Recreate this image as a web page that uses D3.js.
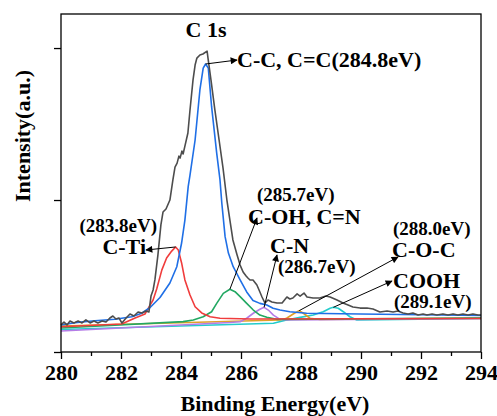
<!DOCTYPE html>
<html>
<head>
<meta charset="utf-8">
<script src="https://cdn.jsdelivr.net/npm/d3@7"></script>
<style>
  html, body { margin: 0; padding: 0; background: #fff; }
  svg { display: block; }
  svg text { font-family: "Liberation Serif", "Times New Roman", serif !important; font-weight: bold; fill: #000; }
</style>
</head>
<body>
<div id="chart"></div>
<script>
// Binding energy (eV), intensity (a.u., x10^3)
const measured = [
  [280.00,1.78],[280.10,1.97],[280.20,1.78],[280.30,2.04],[280.43,1.91],[280.57,2.04],[280.70,1.91],
  [280.83,2.11],[280.97,1.91],[281.10,2.04],[281.23,1.91],[281.37,2.04],[281.50,1.97],[281.63,2.24],
  [281.73,2.37],[281.83,2.17],[281.93,2.24],[282.03,1.91],[282.17,2.24],[282.30,2.50],[282.43,2.37],
  [282.57,2.63],[282.70,2.57],[282.83,2.70],[282.93,2.63],[283.00,3.68],[283.07,4.08],[283.13,4.74],
  [283.23,6.38],[283.33,8.36],[283.40,9.21],[283.50,9.41],[283.63,10.00],[283.73,11.32],[283.80,12.17],
  [283.87,12.43],[283.93,12.89],[283.97,12.76],[284.03,13.22],[284.07,13.03],[284.13,13.55],[284.23,14.41],
  [284.30,15.92],[284.40,17.89],[284.47,18.88],[284.53,19.34],[284.63,19.54],[284.73,19.61],[284.87,19.80],
  [284.90,19.34],[285.00,17.89],[285.13,15.92],[285.27,13.95],[285.40,12.11],[285.53,10.00],[285.63,8.68],
  [285.73,7.37],[285.87,6.38],[285.97,5.72],[286.07,5.26],[286.17,5.00],[286.23,4.87],[286.30,4.74],
  [286.40,4.74],[286.53,4.41],[286.63,3.95],[286.70,3.62],[286.80,3.22],[286.90,3.42],[287.03,3.29],
  [287.20,3.22],[287.37,3.22],[287.53,3.62],[287.63,3.49],[287.73,3.55],[287.87,3.82],[287.97,3.68],
  [288.10,3.88],[288.20,3.62],[288.40,3.55],[288.63,3.55],[288.83,3.68],[288.97,3.62],[289.20,3.42],
  [289.40,3.22],[289.57,3.09],[289.73,2.96],[289.97,2.89],[290.20,2.89],[290.40,2.83],[290.63,2.63],
  [290.87,2.70],[291.07,2.63],[291.23,2.70],[291.40,2.57],[291.57,2.50],[291.73,2.57],[291.90,2.43],
  [292.07,2.50],[292.20,2.43],[292.37,2.50],[292.53,2.43],[292.73,2.50],[292.90,2.43],[293.07,2.50],
  [293.23,2.43],[293.40,2.50],[293.57,2.43],[293.73,2.50],[293.90,2.43],[294.00,2.43]
];

const peakCC = [
  [280.00,1.78],[280.47,1.93],[281.13,2.06],[281.80,2.15],[282.36,2.32],[282.69,2.55],[282.97,2.93],
  [283.30,3.59],[283.63,4.54],[283.86,5.61],[284.02,7.17],[284.13,8.68],[284.24,10.88],[284.30,11.64],
  [284.47,13.95],[284.63,17.24],[284.74,18.68],[284.82,18.95],[284.91,18.68],[285.02,16.14],[285.19,13.09],
  [285.30,11.32],[285.36,9.80],[285.47,7.59],[285.58,6.51],[285.74,5.61],[285.97,4.74],[286.19,3.95],
  [286.40,3.39],[286.63,3.20],[286.86,3.09],[287.07,2.88],[287.30,2.76],[287.63,2.65],[288.19,2.55],
  [289.97,2.50],[294.00,2.40]
];

const peakCTi = [
  [280.00,1.66],[282.02,1.84],[282.19,1.99],[282.47,2.24],[282.80,2.50],[282.97,3.09],[283.07,3.42],
  [283.19,4.14],[283.36,5.39],[283.52,6.18],[283.69,6.64],[283.82,6.91],[283.91,6.71],[284.02,5.86],
  [284.13,4.74],[284.30,3.75],[284.47,2.98],[284.69,2.57],[284.97,2.32],[285.30,2.22],[286.30,2.17],
  [294.00,2.20]
];

const peakCOH = [
  [280.00,1.58],[284.07,2.00],[284.41,2.11],[284.74,2.32],[285.02,2.65],[285.19,3.20],[285.41,3.86],
  [285.63,4.13],[285.80,3.97],[285.97,3.64],[286.19,3.20],[286.41,2.76],[286.63,2.43],[286.86,2.28],
  [287.19,2.15],[294.00,2.24]
];

const peakCN = [
  [280.00,1.38],[285.63,1.94],[285.97,1.99],[286.19,2.22],[286.41,2.55],[286.63,2.81],[286.77,2.94],
  [286.91,2.76],[287.08,2.43],[287.30,2.15],[287.52,2.11],[294.00,2.20]
];

const peakCOC = [
  [280.00,1.71],[287.30,2.11],[287.52,2.22],[287.74,2.50],[287.94,2.72],[288.08,2.55],[288.30,2.22],
  [288.63,2.14],[294.00,2.24]
];

const peakCOOH = [
  [280.00,1.48],[287.08,1.89],[287.52,2.11],[287.97,2.28],[288.41,2.43],[288.74,2.65],[288.97,2.88],
  [289.08,2.94],[289.24,2.88],[289.41,2.65],[289.63,2.32],[289.86,2.11],[294.00,2.20]
];

const xTicks = [280, 282, 284, 286, 288, 290, 292, 294];
const xMinor = [281, 283, 285, 287, 289, 291, 293];
const yTicks = [0, 10, 20];

const W = 497, H = 416;
const margin = { top: 14, right: 16, bottom: 64, left: 61 };
const iW = W - margin.left - margin.right;
const iH = H - margin.top - margin.bottom;
const serif = '"Liberation Serif", "Times New Roman", serif';

const svg = d3.select('#chart').append('svg')
  .attr('width', W).attr('height', H);

const g = svg.append('g').attr('transform', `translate(${margin.left},${margin.top})`);

const x = d3.scaleLinear().domain([280, 294]).range([0, iW]);
const y = d3.scaleLinear().domain([0, 22.24]).range([iH, 0]);

const line = d3.line().x(d => x(d[0])).y(d => y(d[1]));

svg.append('defs').append('marker')
  .attr('id', 'arr').attr('viewBox', '0 0 10 10')
  .attr('refX', 9).attr('refY', 5)
  .attr('markerWidth', 9).attr('markerHeight', 7)
  .attr('markerUnits', 'userSpaceOnUse')
  .attr('orient', 'auto')
  .append('path').attr('d', 'M0,0L10,5L0,10Z').attr('fill', '#000');

// Components first, envelope on top
const series = [
  { data: peakCOOH, color: '#22cccc' },
  { data: peakCOC,  color: '#e0a028' },
  { data: peakCN,   color: '#b47ce6' },
  { data: peakCOH,  color: '#22a862' },
  { data: peakCTi,  color: '#f03c3c' },
  { data: peakCC,   color: '#1f6fe6' },
  { data: measured, color: '#4d4d4d' }
];

series.forEach(s => {
  g.append('path')
    .datum(s.data)
    .attr('d', line)
    .attr('fill', 'none')
    .attr('stroke', s.color)
    .attr('stroke-width', 1.6)
    .attr('stroke-linejoin', 'round');
});

// Frame
g.append('rect')
  .attr('width', iW).attr('height', iH)
  .attr('fill', 'none').attr('stroke', '#000').attr('stroke-width', 1.3);

// Axes
g.append('g').attr('transform', `translate(0,${iH})`)
  .call(d3.axisBottom(x).tickValues(xTicks).tickSize(7).tickPadding(5).tickFormat(d3.format('d')))
  .attr('font-family', serif)
  .call(ax => ax.select('.domain').remove())
  .call(ax => ax.selectAll('line').attr('stroke', '#000').attr('stroke-width', 1.3))
  .call(ax => ax.selectAll('text').style('font-size', '22px')
    .style('font-family', serif).style('font-weight', 'bold').attr('fill', '#000'));

g.append('g').attr('transform', `translate(0,${iH})`)
  .call(d3.axisBottom(x).tickValues(xMinor).tickSize(4).tickFormat(''))
  .call(ax => ax.select('.domain').remove())
  .call(ax => ax.selectAll('line').attr('stroke', '#000').attr('stroke-width', 1.3));

g.append('g')
  .call(d3.axisLeft(y).tickValues(yTicks).tickSize(7).tickFormat(''))
  .call(ax => ax.select('.domain').remove())
  .call(ax => ax.selectAll('line').attr('stroke', '#000').attr('stroke-width', 1.3));

// Axis labels
svg.append('text')
  .attr('x', 275).attr('y', 411)
  .attr('text-anchor', 'middle').attr('font-size', '22px')
  .text('Binding Energy(eV)');

svg.append('text')
  .attr('transform', 'translate(30,136) rotate(-90)')
  .attr('text-anchor', 'middle').attr('font-size', '22px')
  .text('Intensity(a.u.)');

// Annotations
const labels = [
  { t: 'C 1s', x: 206, y: 37, s: 22, a: 'middle' },
  { t: 'C-C, C=C(284.8eV)', x: 237, y: 67, s: 22, a: 'start' },
  { t: '(283.8eV)', x: 157, y: 232, s: 19, a: 'end' },
  { t: 'C-Ti', x: 146, y: 254, s: 22, a: 'end' },
  { t: '(285.7eV)', x: 257, y: 201, s: 19, a: 'start' },
  { t: 'C-OH, C=N', x: 248, y: 224, s: 22, a: 'start' },
  { t: 'C-N', x: 270, y: 253, s: 22, a: 'start' },
  { t: '(286.7eV)', x: 278, y: 273, s: 19, a: 'start' },
  { t: '(288.0eV)', x: 393, y: 235, s: 19, a: 'start' },
  { t: 'C-O-C', x: 392, y: 257, s: 22, a: 'start' },
  { t: 'COOH', x: 393, y: 288, s: 22, a: 'start' },
  { t: '(289.1eV)', x: 394, y: 308, s: 19, a: 'start' }
];

labels.forEach(l => {
  svg.append('text')
    .attr('x', l.x).attr('y', l.y)
    .attr('text-anchor', l.a).attr('font-size', l.s + 'px')
    .text(l.t);
});

// Arrows: from peak top (data) to label
const arrows = [
  { from: [284.82, 18.95], to: [237, 60] },
  { from: [283.82, 6.91], to: [146, 250] },
  { from: [285.63, 4.13], to: [257, 218] },
  { from: [286.77, 2.94], to: [277, 255] },
  { from: [287.94, 2.72], to: [398, 257] },
  { from: [289.08, 2.94], to: [392, 281] }
];

arrows.forEach(a => {
  svg.append('line')
    .attr('x1', margin.left + x(a.from[0])).attr('y1', margin.top + y(a.from[1]))
    .attr('x2', a.to[0]).attr('y2', a.to[1])
    .attr('stroke', '#000').attr('stroke-width', 1)
    .attr('marker-end', 'url(#arr)');
});
</script>
</body>
</html>
